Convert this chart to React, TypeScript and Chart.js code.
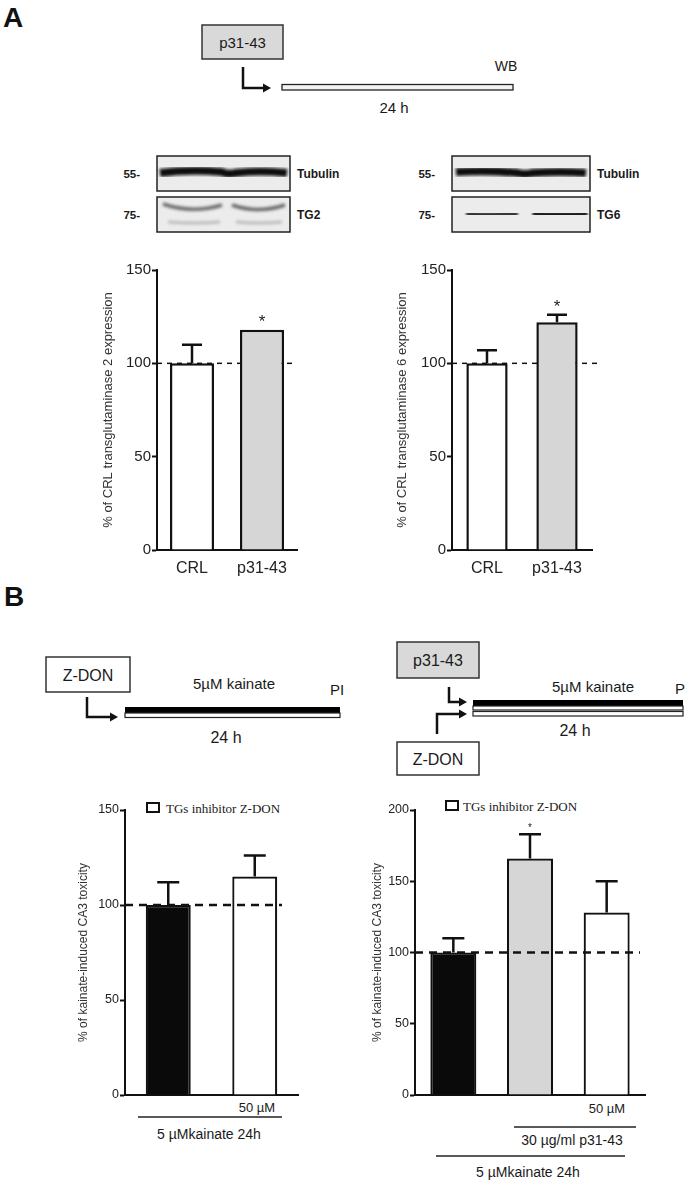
import React, { useEffect, useRef } from "react";
import { Chart, registerables } from "chart.js";

Chart.register(...registerables);

const SANS = 'Arial, "Liberation Sans", Helvetica, sans-serif';
const SERIF = '"Times New Roman", "Liberation Serif", serif';

// ---------- Panel A, left: transglutaminase 2 ----------
const tg2Categories = ["CRL", "p31-43"];
const tg2Values = [100, 118];
const tg2Errors = [10, 0];
const tg2Stars = ["", "*"];

// ---------- Panel A, right: transglutaminase 6 ----------
const tg6Categories = ["CRL", "p31-43"];
const tg6Values = [100, 122];
const tg6Errors = [7, 4];
const tg6Stars = ["", "*"];

const expressionTicks = [0, 50, 100, 150];

// ---------- Panel B, left: Z-DON alone ----------
const zdonCategories = ["5 µM kainate", "5 µM kainate + Z-DON 50 µM"];
const zdonValues = [100, 115];
const zdonErrors = [12, 11];
const zdonStars = ["", ""];
const zdonTicks = [0, 50, 100, 150];

// ---------- Panel B, right: p31-43 + Z-DON ----------
const p31Categories = ["5 µM kainate", "5 µM kainate + p31-43", "5 µM kainate + p31-43 + Z-DON 50 µM"];
const p31Values = [100, 166, 128];
const p31Errors = [10, 17, 22];
const p31Stars = ["", "*", ""];
const p31Ticks = [0, 50, 100, 150, 200];

const WHITE = "#ffffff";
const GREY = "#d6d6d6";
const BLACK = "#0a0a0a";

type Spec = {
  box: { x: number; y: number; w: number; h: number };
  labels: string[];
  values: number[];
  errors: number[];
  stars: string[];
  colors: string[];
  ticks: number[];
  max: number;
  title: string;
  titleSize: number;
  titlePad: number;
  tickSize: number;
  showX: boolean;
  xSize: number;
  xPad: number;
  yWidth: number;
  xHeight: number;
  pad: { top: number; right: number; bottom: number; left: number };
  barPct: number;
  borderW: number;
  refEnd: number;
  refWidth: number;
  refDash: number[];
  refOnTop: boolean;
  capW: number;
  errW: number;
  starSize: number;
  starGap: number;
};

function makePlugins(s: Spec) {
  const drawRef = (chart: any) => {
    const { ctx, chartArea } = chart;
    const y = chart.scales.y.getPixelForValue(100);
    ctx.save();
    ctx.strokeStyle = "#111";
    ctx.lineWidth = s.refWidth;
    ctx.setLineDash(s.refDash);
    ctx.beginPath();
    ctx.moveTo(chartArea.left, y);
    ctx.lineTo(chartArea.right + s.refEnd, y);
    ctx.stroke();
    ctx.restore();
  };
  const refLine = {
    id: "refLine",
    beforeDatasetsDraw(chart: any) {
      if (!s.refOnTop) drawRef(chart);
    },
    afterDatasetsDraw(chart: any) {
      if (s.refOnTop) drawRef(chart);
    },
  };
  const errorBars = {
    id: "errorBars",
    afterDatasetsDraw(chart: any) {
      const { ctx } = chart;
      const ys = chart.scales.y;
      const meta = chart.getDatasetMeta(0);
      ctx.save();
      meta.data.forEach((bar: any, i: number) => {
        const v = s.values[i];
        const e = s.errors[i];
        const yBase = ys.getPixelForValue(v);
        const yTop = ys.getPixelForValue(v + e);
        if (e > 0) {
          ctx.strokeStyle = "#111";
          ctx.lineWidth = s.errW;
          ctx.setLineDash([]);
          ctx.beginPath();
          ctx.moveTo(bar.x, yBase);
          ctx.lineTo(bar.x, yTop);
          ctx.moveTo(bar.x - s.capW / 2, yTop);
          ctx.lineTo(bar.x + s.capW / 2, yTop);
          ctx.stroke();
        }
        if (s.stars[i]) {
          ctx.fillStyle = "#222";
          ctx.font = `${s.starSize}px ${SANS}`;
          ctx.textAlign = "center";
          ctx.textBaseline = "alphabetic";
          ctx.fillText(s.stars[i], bar.x, yTop - s.starGap);
        }
      });
      ctx.restore();
    },
  };
  return [refLine, errorBars];
}

function buildConfig(s: Spec): any {
  return {
    type: "bar",
    data: {
      labels: s.labels,
      datasets: [
        {
          data: s.values,
          backgroundColor: s.colors,
          borderColor: "#111",
          borderWidth: s.borderW,
          borderSkipped: "bottom",
          barPercentage: s.barPct,
          categoryPercentage: 1,
        },
      ],
    },
    options: {
      responsive: false,
      maintainAspectRatio: false,
      animation: false,
      devicePixelRatio: 1,
      events: [],
      layout: { padding: s.pad },
      plugins: {
        legend: { display: false },
        tooltip: { enabled: false },
        title: { display: false },
      },
      scales: {
        x: {
          offset: true,
          afterFit: (sc: any) => {
            sc.height = s.xHeight;
          },
          border: { display: true, color: "#111", width: 2 },
          grid: { display: false, drawTicks: false },
          ticks: {
            display: s.showX,
            color: "#222",
            font: { family: SANS, size: s.xSize },
            padding: s.xPad,
            maxRotation: 0,
            autoSkip: false,
          },
        },
        y: {
          min: 0,
          max: s.max,
          afterBuildTicks: (sc: any) => {
            sc.ticks = s.ticks.map((value) => ({ value }));
          },
          afterFit: (sc: any) => {
            sc.width = s.yWidth;
          },
          border: { display: true, color: "#111", width: 2 },
          grid: {
            display: true,
            drawOnChartArea: false,
            drawTicks: true,
            tickLength: 5,
            tickColor: "#111",
            tickWidth: 2,
            color: "#111",
          },
          ticks: {
            color: "#222",
            font: { family: SANS, size: s.tickSize },
            padding: 1,
          },
          title: {
            display: true,
            text: s.title,
            color: "#333",
            font: { family: SANS, size: s.titleSize },
            padding: { top: s.titlePad, bottom: 0 },
          },
        },
      },
    },
    plugins: makePlugins(s),
  };
}

function BarChart({ spec }: { spec: Spec }) {
  const ref = useRef<HTMLCanvasElement>(null);
  useEffect(() => {
    const chart = new Chart(ref.current as HTMLCanvasElement, buildConfig(spec));
    return () => chart.destroy();
  }, [spec]);
  const { x, y, w, h } = spec.box;
  return (
    <canvas
      ref={ref}
      width={w}
      height={h}
      style={{ position: "absolute", left: x, top: y, width: w, height: h }}
    />
  );
}

const specA1: Spec = {
  box: { x: 90, y: 250, w: 220, h: 340 },
  labels: tg2Categories,
  values: tg2Values,
  errors: tg2Errors,
  stars: tg2Stars,
  colors: [WHITE, GREY],
  ticks: expressionTicks,
  max: 150,
  title: "% of CRL transglutaminase 2 expression",
  titleSize: 13,
  titlePad: 11,
  tickSize: 15,
  showX: true,
  xSize: 16,
  xPad: 9,
  yWidth: 67,
  xHeight: 30,
  pad: { top: 20, right: 13, bottom: 10, left: 0 },
  barPct: 0.63,
  borderW: 2.5,
  refEnd: 0,
  refWidth: 1.5,
  refDash: [5, 5],
  refOnTop: false,
  capW: 20,
  errW: 2.5,
  starSize: 17,
  starGap: 3,
};

const specA2: Spec = {
  ...specA1,
  box: { x: 380, y: 250, w: 230, h: 340 },
  labels: tg6Categories,
  values: tg6Values,
  errors: tg6Errors,
  stars: tg6Stars,
  title: "% of CRL transglutaminase 6 expression",
  titlePad: 15,
  yWidth: 72,
  pad: { top: 20, right: 18, bottom: 10, left: 0 },
  barPct: 0.59,
  refEnd: 6,
};

const specB1: Spec = {
  box: { x: 60, y: 790, w: 250, h: 330 },
  labels: zdonCategories,
  values: zdonValues,
  errors: zdonErrors,
  stars: zdonStars,
  colors: [BLACK, WHITE],
  ticks: zdonTicks,
  max: 150,
  title: "% of kainate-induced CA3 toxicity",
  titleSize: 12,
  titlePad: 16,
  tickSize: 12.5,
  showX: false,
  xSize: 12,
  xPad: 0,
  yWidth: 65,
  xHeight: 0,
  pad: { top: 20, right: 12, bottom: 25, left: 0 },
  barPct: 0.52,
  borderW: 2.2,
  refEnd: -16,
  refWidth: 2.5,
  refDash: [8, 6],
  refOnTop: true,
  capW: 22,
  errW: 2.5,
  starSize: 10,
  starGap: 3,
};

const specB2: Spec = {
  ...specB1,
  box: { x: 360, y: 790, w: 300, h: 330 },
  labels: p31Categories,
  values: p31Values,
  errors: p31Errors,
  stars: p31Stars,
  colors: [BLACK, GREY, WHITE],
  ticks: p31Ticks,
  max: 200,
  titlePad: 10,
  yWidth: 55,
  pad: { top: 20, right: 15, bottom: 25, left: 0 },
  barPct: 0.6,
  refEnd: -5,
};

function Arrow({ d, tipX, tipY }: { d: string; tipX: number; tipY: number }) {
  return (
    <g>
      <path d={d} fill="none" stroke="#111" strokeWidth={2.5} />
      <polygon points={`${tipX - 8},${tipY - 4.5} ${tipX},${tipY} ${tipX - 8},${tipY + 4.5}`} fill="#111" />
    </g>
  );
}

function Blots() {
  return (
    <g>
      <defs>
        <filter id="blur2" x="-20%" y="-100%" width="140%" height="300%">
          <feGaussianBlur stdDeviation="1.6" />
        </filter>
        <filter id="blur1" x="-20%" y="-100%" width="140%" height="300%">
          <feGaussianBlur stdDeviation="1.2" />
        </filter>
      </defs>
      {/* A left blots */}
      <rect x={157} y={156} width={133} height={35} fill="#ececec" stroke="#222" strokeWidth={1.5} />
      <g filter="url(#blur2)">
        <path d="M160 173 Q190 169 222 172 Q228 175 235 173 Q260 170 287 173" stroke="#111" strokeWidth={8} fill="none" />
      </g>
      <rect x={157} y={197} width={133} height={35} fill="#ececec" stroke="#222" strokeWidth={1.5} />
      <g filter="url(#blur2)">
        <path d="M163 204 Q192 214 222 205" stroke="#6a6a6a" strokeWidth={3.5} fill="none" />
        <path d="M232 205 Q258 214 285 205" stroke="#666" strokeWidth={3.5} fill="none" />
        <path d="M168 222 Q195 224 220 222" stroke="#bbb" strokeWidth={3} fill="none" />
        <path d="M236 222 Q260 224 282 222" stroke="#bbb" strokeWidth={3} fill="none" />
      </g>
      {/* A right blots */}
      <rect x={452} y={156} width={138} height={35} fill="#ececec" stroke="#222" strokeWidth={1.5} />
      <g filter="url(#blur2)">
        <path d="M456 172 Q490 170 518 173 Q525 175 532 173 Q560 171 586 173" stroke="#111" strokeWidth={8} fill="none" />
      </g>
      <rect x={452} y={197} width={138} height={35} fill="#ececec" stroke="#222" strokeWidth={1.5} />
      <g filter="url(#blur1)">
        <path d="M468 214 Q492 215 516 214" stroke="#2a2a2a" strokeWidth={4.5} fill="none" strokeLinecap="round" />
        <path d="M535 214 Q560 215 585 214" stroke="#1a1a1a" strokeWidth={5.5} fill="none" strokeLinecap="round" />
      </g>
    </g>
  );
}

function Overlay() {
  const t = (x: number, y: number, s: string, size: number, anchor: string = "middle", weight: string = "normal", family: string = SANS) => (
    <text x={x} y={y} fontSize={size} fontFamily={family} fontWeight={weight} textAnchor={anchor as any} dominantBaseline="central" fill="#1a1a1a">
      {s}
    </text>
  );
  return (
    <svg width={685} height={1183} style={{ position: "absolute", left: 0, top: 0 }}>
      <rect x={0} y={0} width={685} height={1183} fill="#ffffff" />
      {/* Panel letters */}
      <text x={3} y={27} fontSize={28} fontWeight="bold" fontFamily={SANS} fill="#111">A</text>
      <text x={4} y={606} fontSize={28} fontWeight="bold" fontFamily={SANS} fill="#111">B</text>

      {/* Panel A scheme */}
      <rect x={202} y={25} width={81} height={34} fill="#d9d9d9" stroke="#333" strokeWidth={1.5} />
      {t(242.5, 42, "p31-43", 15)}
      <Arrow d="M243 67 V88 H266" tipX={271} tipY={88} />
      <rect x={282} y={84.5} width={231} height={5.5} fill="#f3f3f3" stroke="#222" strokeWidth={1.3} />
      {t(506, 66, "WB", 14)}
      {t(394, 107, "24 h", 15)}

      {/* Blots */}
      <Blots />
      {t(140, 174, "55-", 11.5, "end", "bold")}
      {t(140, 215, "75-", 11.5, "end", "bold")}
      {t(297, 174, "Tubulin", 12, "start", "bold")}
      {t(297, 215, "TG2", 12, "start", "bold")}
      {t(435, 174, "55-", 11.5, "end", "bold")}
      {t(435, 215, "75-", 11.5, "end", "bold")}
      {t(597, 174, "Tubulin", 12, "start", "bold")}
      {t(597, 215, "TG6", 12, "start", "bold")}

      {/* Panel B scheme, left */}
      <rect x={46} y={657} width={84} height={35} fill="#ffffff" stroke="#333" strokeWidth={1.5} />
      {t(88, 675, "Z-DON", 16)}
      <Arrow d="M87 697 V717 H112" tipX={118} tipY={717} />
      <rect x={125} y={707} width={215} height={6} fill="#000" />
      <rect x={125} y={713} width={215} height={4.5} fill="#fff" stroke="#222" strokeWidth={1.2} />
      {t(234, 683, "5µM kainate", 15)}
      {t(330, 689, "PI", 15, "start")}
      {t(226, 737, "24 h", 16)}

      {/* Panel B scheme, right */}
      <rect x={397} y={642} width={82} height={36} fill="#d9d9d9" stroke="#333" strokeWidth={1.5} />
      {t(438, 660, "p31-43", 16)}
      <Arrow d="M449 687 V702 H460" tipX={467} tipY={702} />
      <Arrow d="M437 734 V714 H460" tipX={467} tipY={714} />
      <rect x={473} y={700} width={210} height={6} fill="#000" />
      <rect x={473} y={706} width={210} height={4} fill="#fff" stroke="#222" strokeWidth={1.2} />
      <rect x={473} y={711.5} width={210} height={4.5} fill="#fff" stroke="#222" strokeWidth={1.2} />
      {t(593, 686, "5µM kainate", 15)}
      {t(675, 688, "PI", 15, "start")}
      {t(575, 730, "24 h", 16)}
      <rect x={397} y={742} width={82} height={33} fill="#ffffff" stroke="#333" strokeWidth={1.5} />
      {t(438, 759, "Z-DON", 16)}

      {/* Legends */}
      <rect x={147} y={803} width={12} height={9} fill="#fff" stroke="#111" strokeWidth={2} />
      {t(166, 808, "TGs inhibitor Z-DON", 13, "start", "normal", SERIF)}
      <rect x={446} y={801} width={12} height={9} fill="#fff" stroke="#111" strokeWidth={2} />
      {t(463, 806, "TGs inhibitor Z-DON", 13, "start", "normal", SERIF)}

      {/* Panel B group labels, left */}
      {t(257, 1107, "50 µM", 13)}
      <line x1={138} y1={1117} x2={282} y2={1117} stroke="#222" strokeWidth={1.3} />
      {t(209, 1134, "5 µMkainate 24h", 14)}

      {/* Panel B group labels, right */}
      {t(607, 1108, "50 µM", 13)}
      <line x1={514} y1={1127} x2={636} y2={1127} stroke="#222" strokeWidth={1.3} />
      {t(572, 1140, "30 µg/ml p31-43", 14)}
      <line x1={436} y1={1156} x2={625} y2={1156} stroke="#222" strokeWidth={1.3} />
      {t(528, 1172, "5 µMkainate 24h", 14)}
    </svg>
  );
}

export default function App() {
  return (
    <div style={{ position: "absolute", left: 0, top: 0, width: 685, height: 1183, background: "#fff", overflow: "hidden" }}>
      <Overlay />
      <BarChart spec={specA1} />
      <BarChart spec={specA2} />
      <BarChart spec={specB1} />
      <BarChart spec={specB2} />
    </div>
  );
}
